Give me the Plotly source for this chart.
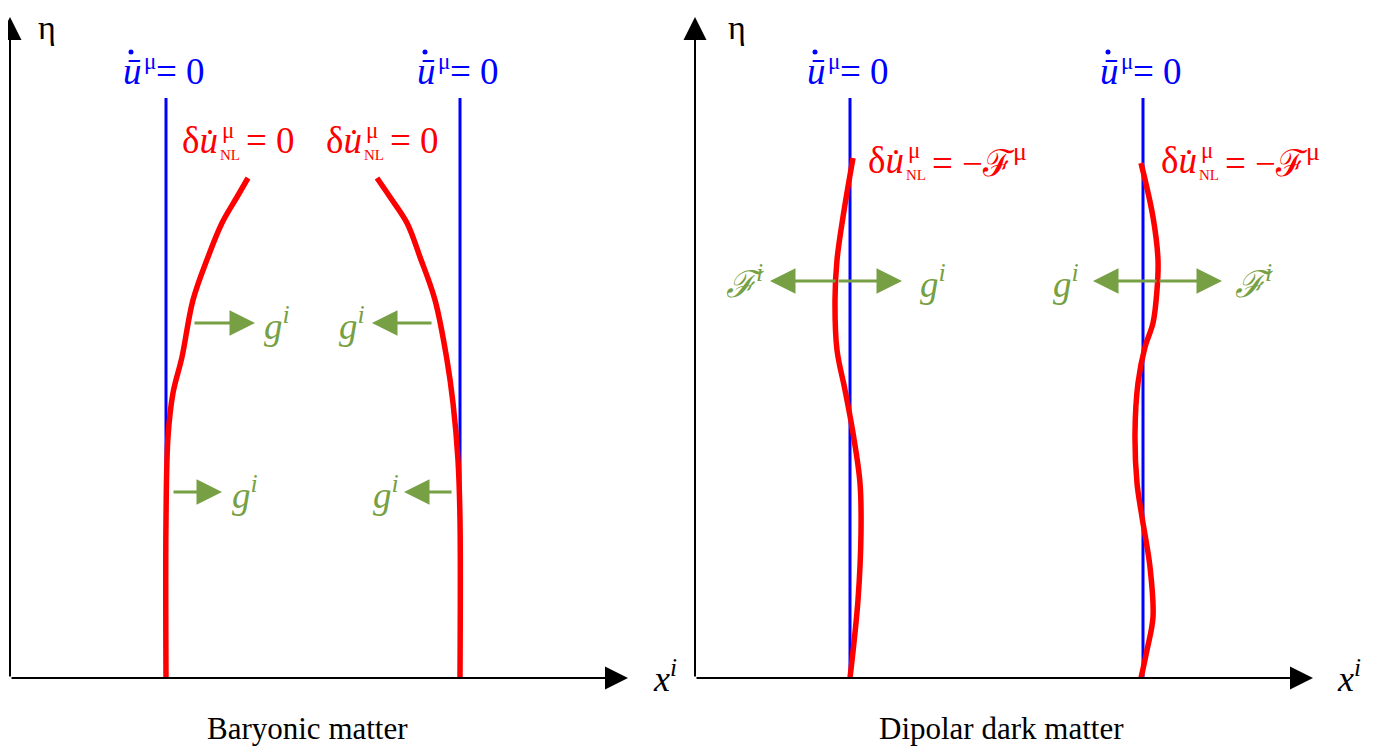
import plotly.graph_objects as go

# ---------------- data (x in px-like units, eta = height above the x axis) ----------------
panel_origin_x = [10, 695]
axis_x_tip = [628, 1313]
axis_eta_tip = 661
eta_label_x = [47, 737]
xi_label_x = [665, 1349]
panel_titles = ["Baryonic matter", "Dipolar dark matter"]
title_x = [307, 1001]

blue_x = [166, 460, 850, 1143]
blue_eta_top = 580

bary_left_x = [166, 166, 168, 173, 182, 193, 208, 222, 237, 248]
bary_left_eta = [0, 158, 241, 285, 321, 378, 421, 455, 481, 500]
bary_right_x = [460, 460, 458, 453, 447, 435, 420, 407, 390, 377]
bary_right_eta = [0, 158, 218, 275, 318, 378, 421, 455, 481, 500]

ddm_left_x = [850, 858, 861, 860, 853, 845, 837, 835, 837, 843, 853]
ddm_left_eta = [0, 78, 145, 195, 245, 288, 328, 378, 418, 461, 520]
ddm_right_x = [1141, 1147, 1153, 1150, 1142, 1137, 1135, 1138, 1145, 1153, 1157, 1158, 1153, 1141]
ddm_right_eta = [0, 28, 61, 111, 161, 195, 245, 295, 331, 355, 388, 418, 461, 515]

# green force arrows: tail x, tip x, eta, label x, label symbol
arrow_tail = [193, 172, 433, 453, 837, 837, 1158, 1158]
arrow_tip = [255, 222, 372, 404, 770, 902, 1093, 1222]
arrow_eta = [355, 186, 355, 186, 397, 397, 397, 397]
arrow_label_x = [277, 245, 352, 386, 745, 933, 1066, 1254]
arrow_label = ["g", "g", "g", "g", "ℱ", "g", "g", "ℱ"]

blue_label_u_end = [144, 438, 828, 1121]
blue_label_eta = 607
blue_dot_eta = 626
red_label_mid = [220, 364, 906, 1199]
red_label_eta = [538, 538, 518, 518]
red_label_rest = ["= 0", "= 0", "= −ℱ<sup>μ</sup>", "= −ℱ<sup>μ</sup>"]

BLUE = "#0000FF"
RED = "#FF0000"
GREEN = "#76A043"
SERIF = "Liberation Serif"
FS = 37

fig = go.Figure()

for bx in blue_x:
    fig.add_trace(go.Scatter(x=[bx, bx], y=[0, blue_eta_top], mode="lines",
                             line=dict(color=BLUE, width=3), hoverinfo="skip"))

for xs, ys in [(bary_left_x, bary_left_eta), (bary_right_x, bary_right_eta),
               (ddm_left_x, ddm_left_eta), (ddm_right_x, ddm_right_eta)]:
    fig.add_trace(go.Scatter(x=xs, y=ys, mode="lines", line_shape="spline",
                             line=dict(color=RED, width=5.5), hoverinfo="skip"))

# dots over the barred u in the blue labels
fig.add_trace(go.Scatter(x=[ue - 13 for ue in blue_label_u_end],
                         y=[blue_dot_eta] * len(blue_label_u_end), mode="markers",
                         marker=dict(color=BLUE, size=5, symbol="circle"), hoverinfo="skip"))

ann = []
# axes arrows and labels
for ox, xt, ex, xx in zip(panel_origin_x, axis_x_tip, eta_label_x, xi_label_x):
    ann.append(dict(x=xt, y=0, ax=ox, ay=0, axref="x", ayref="y", xref="x", yref="y",
                    showarrow=True, text="", arrowhead=2, arrowsize=2.3, arrowwidth=2,
                    arrowcolor="black"))
    ann.append(dict(x=ox, y=axis_eta_tip, ax=ox, ay=0, axref="x", ayref="y", xref="x", yref="y",
                    showarrow=True, text="", arrowhead=2, arrowsize=2.3, arrowwidth=2,
                    arrowcolor="black"))
    ann.append(dict(x=ex, y=1, yref="paper", yanchor="top", text="η", showarrow=False,
                    borderpad=0, font=dict(family=SERIF, size=34, color="black")))
    ann.append(dict(x=xx, y=2, text="<i>x<sup>i</sup></i>", showarrow=False,
                    font=dict(family=SERIF, size=36, color="black")))

for tx, title in zip(title_x, panel_titles):
    ann.append(dict(x=tx, y=-50, text=title, showarrow=False,
                    font=dict(family=SERIF, size=31, color="black")))

# green arrows
for tail, tip, eta, lx, lab in zip(arrow_tail, arrow_tip, arrow_eta, arrow_label_x, arrow_label):
    ann.append(dict(x=tip, y=eta, ax=tail, ay=eta, axref="x", ayref="y", xref="x", yref="y",
                    showarrow=True, text="", arrowhead=2, arrowsize=1.7, arrowwidth=3,
                    arrowcolor=GREEN))
    ann.append(dict(x=lx, y=eta, text="<i>%s<sup>i</sup></i>" % lab, showarrow=False,
                    font=dict(family=SERIF, size=FS, color=GREEN)))

# blue labels (u with bar; dot drawn as marker above)
for ue in blue_label_u_end:
    ann.append(dict(x=ue, y=blue_label_eta, text="<i>u\u0304</i>", showarrow=False,
                    xanchor="right", font=dict(family=SERIF, size=FS, color=BLUE)))
    ann.append(dict(x=ue - 2, y=blue_label_eta + 10, text="μ", showarrow=False,
                    xanchor="left", font=dict(family=SERIF, size=23, color=BLUE)))
    ann.append(dict(x=ue + 10, y=blue_label_eta, text="= 0", showarrow=False,
                    xanchor="left", font=dict(family=SERIF, size=FS, color=BLUE)))

# red labels built from pieces
for xm, eta, rest in zip(red_label_mid, red_label_eta, red_label_rest):
    ann.append(dict(x=xm, y=eta, text="δ<i>u\u0307</i>", showarrow=False, xanchor="right",
                    font=dict(family=SERIF, size=FS, color=RED)))
    ann.append(dict(x=xm, y=eta + 10, text="μ", showarrow=False, xanchor="left",
                    font=dict(family=SERIF, size=23, color=RED)))
    ann.append(dict(x=xm - 2, y=eta - 15, text="NL", showarrow=False, xanchor="left",
                    font=dict(family=SERIF, size=15, color=RED)))
    ann.append(dict(x=xm + 24, y=eta, text=rest, showarrow=False, xanchor="left",
                    font=dict(family=SERIF, size=FS, color=RED)))

fig.update_layout(
    width=1372, height=741, margin=dict(l=0, r=0, t=0, b=0),
    plot_bgcolor="white", paper_bgcolor="white", showlegend=False,
    xaxis=dict(range=[8, 1380], visible=False, fixedrange=True),
    yaxis=dict(range=[-71, 670], visible=False, fixedrange=True),
    annotations=ann,
)

fig.write_html("out.html")
